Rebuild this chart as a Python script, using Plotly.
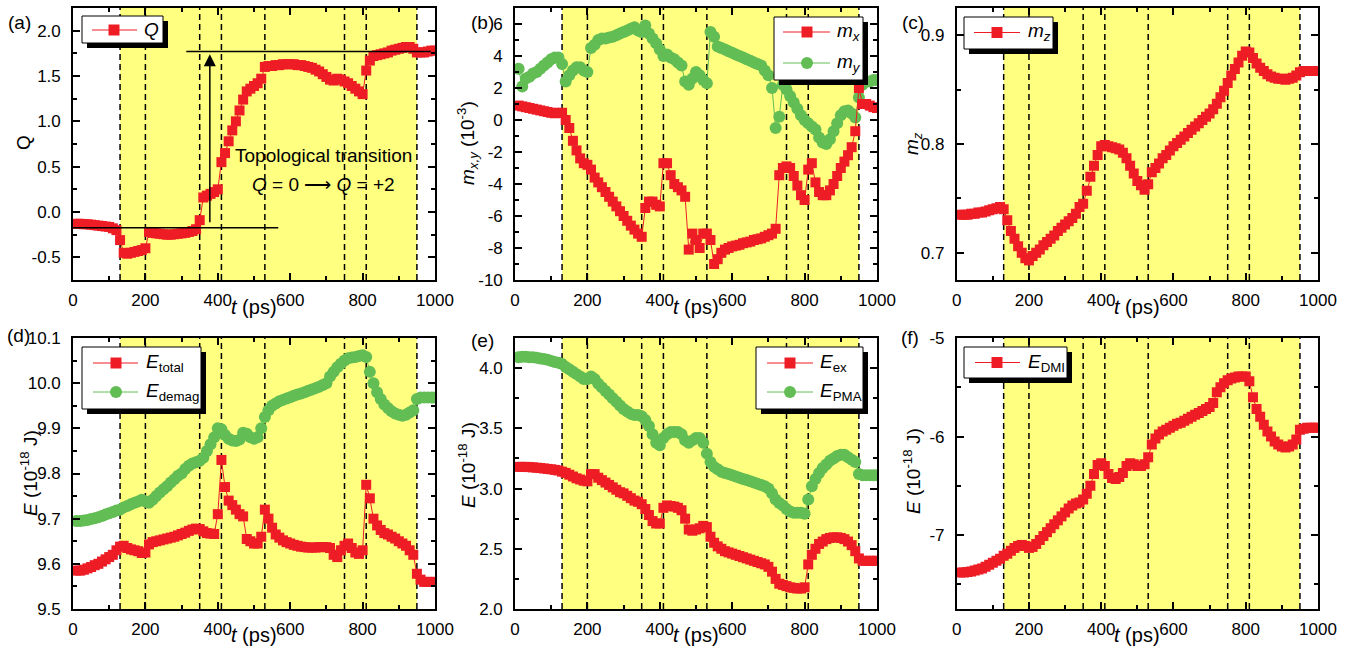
import plotly.graph_objects as go

W, H = 1350, 649
FONT = "Arial, 'Liberation Sans', sans-serif"
RED = "#EE1C25"
GREEN = "#62BD54"
YELLOW = "#FFFF80"

# ---------------- data ----------------
t = list(range(10, 1001, 10))

Q = [-0.13, -0.13, -0.135, -0.135, -0.14, -0.145, -0.15, -0.155, -0.16, -0.165,
     -0.18, -0.2, -0.31, -0.45, -0.46, -0.45, -0.44, -0.43, -0.42, -0.40,
     -0.22, -0.23, -0.235, -0.24, -0.245, -0.25, -0.25, -0.245, -0.24, -0.235,
     -0.23, -0.22, -0.21, -0.19, -0.09, 0.16, 0.18, 0.2, 0.22, 0.25,
     0.55, 0.65, 0.78, 0.9, 1.0, 1.12, 1.24, 1.33, 1.36, 1.39,
     1.42, 1.47, 1.6, 1.61, 1.61, 1.62, 1.62, 1.63, 1.63, 1.63,
     1.63, 1.62, 1.62, 1.61, 1.6, 1.59, 1.57, 1.55, 1.52, 1.49,
     1.46, 1.45, 1.47, 1.46, 1.44, 1.42, 1.39, 1.36, 1.33, 1.30,
     1.56, 1.67, 1.72, 1.73, 1.74, 1.75, 1.76, 1.78, 1.79, 1.80,
     1.81, 1.82, 1.82, 1.80, 1.76, 1.76, 1.76, 1.77, 1.78, 1.78]

m_x = [0.9, 0.85, 0.8, 0.75, 0.7, 0.65, 0.6, 0.55, 0.5, 0.45,
       0.42, 0.45, 0.45, 0.0, -0.5, -1.3, -1.9, -2.4, -2.7, -2.8,
       -3.1, -3.6, -3.9, -4.2, -4.5, -4.8, -5.1, -5.4, -5.7, -6.0,
       -6.3, -6.6, -6.85, -7.1, -7.3, -5.5, -5.1, -5.1, -5.3, -5.4,
       -2.7, -2.7, -3.45, -4.0, -4.2, -4.4, -4.8, -8.1, -7.1, -7.5,
       -8.0, -7.1, -7.1, -7.5, -9.0, -8.7, -8.3, -8.1, -8.0, -7.9,
       -7.85, -7.8, -7.7, -7.65, -7.6, -7.5, -7.45, -7.4, -7.3, -7.2,
       -7.1, -6.8, -3.45, -3.0, -2.9, -3.0, -3.5, -4.1, -4.7, -5.0,
       -3.1, -2.7, -3.9, -4.5, -4.7, -4.7, -4.4, -4.0, -3.5, -3.0,
       -2.6, -2.2, -1.7, -0.7, 2.0, 1.0, 1.0, 0.9, 0.8, 0.75]

m_y = [3.2, 2.1, 2.6, 2.7, 2.9, 3.0, 3.2, 3.4, 3.6, 3.8,
       3.9, 3.9, 3.5, 2.4, 2.8, 3.1, 3.3, 3.3, 3.1, 3.0,
       4.5, 4.7, 5.0, 5.1, 5.1, 5.15, 5.2, 5.3, 5.4, 5.5,
       5.6, 5.7, 5.8, 5.6, 5.5, 5.9, 5.4, 5.1, 4.8, 4.4,
       4.0, 4.1, 3.9, 3.8, 3.6, 3.4, 2.4, 2.2, 2.6, 3.0,
       2.8, 2.5, 2.3, 5.5, 5.2, 4.6, 4.5, 4.4, 4.3, 4.2,
       4.1, 4.0, 3.9, 3.8, 3.7, 3.6, 3.5, 3.4, 3.1, 2.8,
       2.0, -0.5, 0.2, 2.2, 1.9, 1.5, 1.1, 0.7, 0.3, 0.0,
       -0.2, -0.4, -0.6, -1.1, -1.4, -1.5, -1.2, -0.7, -0.2, 0.3,
       0.55, 0.6, 0.4, 0.15, 1.4, 2.2, 2.4, 2.4, 2.5, 2.5]

m_z = [0.735, 0.735, 0.735, 0.736, 0.736, 0.737, 0.737, 0.738, 0.739, 0.740,
       0.741, 0.742, 0.740, 0.730, 0.720, 0.713, 0.706, 0.700, 0.695, 0.693,
       0.697, 0.700, 0.703, 0.707, 0.710, 0.713, 0.716, 0.720, 0.723, 0.726,
       0.729, 0.732, 0.736, 0.742, 0.745, 0.757, 0.770, 0.780, 0.790, 0.798,
       0.799, 0.798, 0.797, 0.796, 0.795, 0.792, 0.787, 0.780, 0.773, 0.766,
       0.762, 0.758, 0.763, 0.774, 0.778, 0.782, 0.787, 0.790, 0.794, 0.798,
       0.801, 0.804, 0.807, 0.810, 0.813, 0.816, 0.819, 0.822, 0.825, 0.828,
       0.832, 0.837, 0.843, 0.849, 0.856, 0.863, 0.869, 0.875, 0.881, 0.885,
       0.884, 0.879, 0.874, 0.870, 0.867, 0.864, 0.862, 0.861, 0.860, 0.860,
       0.859, 0.860, 0.861, 0.863, 0.866, 0.867, 0.867, 0.867, 0.867, 0.867]

E_total = [9.585, 9.585, 9.587, 9.590, 9.593, 9.597, 9.600, 9.605, 9.610, 9.615,
           9.620, 9.630, 9.638, 9.640, 9.635, 9.632, 9.630, 9.628, 9.624, 9.625,
           9.643, 9.648, 9.650, 9.652, 9.654, 9.656, 9.658, 9.660, 9.663, 9.666,
           9.669, 9.673, 9.676, 9.678, 9.677, 9.672, 9.668, 9.667, 9.666, 9.710,
           9.830, 9.770, 9.740, 9.730, 9.720, 9.710, 9.705, 9.655, 9.650, 9.645,
           9.645, 9.660, 9.720, 9.700, 9.680, 9.665, 9.658, 9.652, 9.648, 9.645,
           9.642, 9.640, 9.638, 9.637, 9.636, 9.636, 9.636, 9.637, 9.637, 9.637,
           9.635, 9.620, 9.615, 9.630, 9.640, 9.645, 9.635, 9.625, 9.622, 9.630,
           9.775, 9.745, 9.700, 9.685, 9.675, 9.668, 9.665, 9.660, 9.656, 9.650,
           9.645, 9.640, 9.630, 9.620, 9.578, 9.565, 9.560, 9.560, 9.560, 9.560]

E_demag = [9.695, 9.695, 9.696, 9.697, 9.699, 9.701, 9.703, 9.706, 9.709, 9.712,
           9.715, 9.718, 9.720, 9.725, 9.728, 9.732, 9.735, 9.738, 9.742, 9.738,
           9.735, 9.742, 9.750, 9.758, 9.765, 9.772, 9.780, 9.787, 9.795, 9.800,
           9.810, 9.817, 9.822, 9.825, 9.828, 9.835, 9.850, 9.865, 9.880, 9.900,
           9.898, 9.885, 9.877, 9.873, 9.872, 9.875, 9.890, 9.888, 9.880, 9.877,
           9.880, 9.900, 9.925, 9.940, 9.950, 9.955, 9.960, 9.963, 9.966, 9.969,
           9.972, 9.975, 9.977, 9.980, 9.983, 9.986, 9.989, 9.992, 9.996, 10.000,
           10.015, 10.025, 10.035, 10.043, 10.050, 10.055, 10.057, 10.058, 10.060, 10.062,
           10.058, 10.025, 10.000, 9.980, 9.965, 9.953, 9.945, 9.938, 9.933, 9.930,
           9.928, 9.930, 9.935, 9.940, 9.965, 9.968, 9.968, 9.968, 9.968, 9.968]

E_ex = [3.18, 3.18, 3.18, 3.178, 3.176, 3.173, 3.17, 3.167, 3.163, 3.16,
        3.155, 3.15, 3.14, 3.13, 3.115, 3.10, 3.085, 3.075, 3.065, 3.06,
        3.12, 3.12, 3.09, 3.07, 3.05, 3.03, 3.01, 2.99, 2.97, 2.96,
        2.94, 2.92, 2.90, 2.89, 2.87, 2.83, 2.78, 2.73, 2.71, 2.71,
        2.84, 2.86, 2.855, 2.85, 2.84, 2.82, 2.75, 2.66, 2.65, 2.66,
        2.67, 2.69, 2.68, 2.60, 2.55, 2.52, 2.50, 2.48, 2.47, 2.46,
        2.45, 2.44, 2.43, 2.42, 2.41, 2.40, 2.39, 2.38, 2.37, 2.35,
        2.31, 2.25, 2.21, 2.20, 2.19, 2.18, 2.175, 2.17, 2.17, 2.18,
        2.37, 2.45, 2.50, 2.54, 2.56, 2.58, 2.59, 2.595, 2.595, 2.59,
        2.58, 2.56, 2.53, 2.48, 2.42, 2.40, 2.40, 2.40, 2.40, 2.40]

E_PMA = [4.09, 4.095, 4.095, 4.09, 4.09, 4.085, 4.08, 4.075, 4.07, 4.06,
         4.05, 4.045, 4.035, 4.01, 3.99, 3.97, 3.95, 3.93, 3.91, 3.91,
         3.93, 3.91, 3.87, 3.84, 3.81, 3.78, 3.75, 3.72, 3.69, 3.66,
         3.64, 3.62, 3.61, 3.61, 3.60, 3.57, 3.52, 3.45, 3.38, 3.36,
         3.42, 3.45, 3.47, 3.47, 3.47, 3.45, 3.40, 3.38, 3.40, 3.42,
         3.42, 3.38, 3.29, 3.22, 3.18, 3.16, 3.14, 3.13, 3.12, 3.11,
         3.10, 3.09, 3.08, 3.07, 3.06, 3.05, 3.04, 3.03, 3.02, 3.00,
         2.96, 2.91, 2.88, 2.86, 2.83, 2.81, 2.80, 2.80, 2.80, 2.79,
         2.91, 3.02, 3.08, 3.13, 3.17, 3.20, 3.23, 3.25, 3.27, 3.28,
         3.28, 3.26, 3.24, 3.22, 3.12, 3.11, 3.11, 3.11, 3.11, 3.11]

E_DMI = [-7.38, -7.38, -7.375, -7.37, -7.36, -7.35, -7.34, -7.32, -7.30, -7.28,
         -7.26, -7.24, -7.21, -7.19, -7.16, -7.13, -7.11, -7.10, -7.11, -7.13,
         -7.12, -7.09, -7.05, -7.01, -6.97, -6.93, -6.89, -6.85, -6.81, -6.77,
         -6.73, -6.70, -6.68, -6.67, -6.64, -6.58, -6.50, -6.38, -6.29, -6.27,
         -6.30, -6.38, -6.42, -6.43, -6.41, -6.37, -6.30, -6.27, -6.28, -6.30,
         -6.30, -6.28, -6.21, -6.08, -6.02, -5.98, -5.95, -5.93, -5.91, -5.89,
         -5.87, -5.86, -5.84, -5.82, -5.80, -5.78, -5.76, -5.74, -5.72, -5.70,
         -5.66, -5.55, -5.50, -5.46, -5.43, -5.41, -5.40, -5.39, -5.39, -5.39,
         -5.44, -5.60, -5.72, -5.80, -5.88, -5.95, -6.00, -6.05, -6.08, -6.10,
         -6.11, -6.10, -6.08, -6.03, -5.93, -5.92, -5.91, -5.91, -5.91, -5.91]

boundaries = [130, 200, 350, 410, 530, 750, 810, 950]
x_ticks = [0, 200, 400, 600, 800, 1000]

yticks_a = [-0.5, 0.0, 0.5, 1.0, 1.5, 2.0]
yticks_b = [-10, -8, -6, -4, -2, 0, 2, 4, 6]
yticks_c = [0.7, 0.8, 0.9]
yticks_d = [9.5, 9.6, 9.7, 9.8, 9.9, 10.0, 10.1]
yticks_e = [2.0, 2.5, 3.0, 3.5, 4.0]
yticks_f = [-7, -6, -5]


def fmt(v, nd):
    return f"{v:.{nd}f}"  # ASCII hyphen-minus as in the reference


# ---------------- layout geometry (pixels) ----------------
cols = [(73, 435), (515, 877), (956.7, 1318)]
rows = [(8, 280), (338, 609)]


def px(x):
    return x / W


def py(y):
    return 1 - y / H


fig = go.Figure()

panels = [
    (0, 0, [-0.75, 2.25], yticks_a, 1, 0.25),
    (0, 1, [-10, 7], yticks_b, 0, 1),
    (0, 2, [0.675, 0.925], yticks_c, 1, 0.05),
    (1, 0, [9.5, 10.1], yticks_d, 1, 0.05),
    (1, 1, [2.0, 4.25], yticks_e, 1, 0.25),
    (1, 2, [-7.75, -5], yticks_f, 0, 0.5),
]

layout = dict(
    width=W, height=H, margin=dict(l=0, r=0, t=0, b=0, autoexpand=False),
    paper_bgcolor="white", plot_bgcolor="white", showlegend=False,
    font=dict(family=FONT, color="black", size=17),
)

shapes = []
annotations = []

for i, (r, c, yr, yt, nd, mdt) in enumerate(panels):
    n = "" if i == 0 else str(i + 1)
    xd = [px(cols[c][0]), px(cols[c][1])]
    yd = [py(rows[r][1]), py(rows[r][0])]
    layout["xaxis" + n] = dict(
        domain=xd, anchor="y" + n, range=[0, 1000], automargin=False,
        tickvals=x_ticks, ticktext=[str(v) for v in x_ticks],
        ticks="inside", ticklen=7, tickwidth=1.5, tickcolor="black",
        mirror="ticks", showline=True, linecolor="black", linewidth=1.6,
        showgrid=False, zeroline=False, ticklabelstandoff=4,
        tickfont=dict(size=17, family=FONT),
        minor=dict(dtick=100, tick0=0, ticks="inside", ticklen=4,
                   tickwidth=1.5, tickcolor="black", showgrid=False),
    )
    layout["yaxis" + n] = dict(
        domain=yd, anchor="x" + n, range=yr, automargin=False,
        tickvals=yt, ticktext=[fmt(v, nd) for v in yt],
        ticks="inside", ticklen=7, tickwidth=1.5, tickcolor="black",
        mirror="ticks", showline=True, linecolor="black", linewidth=1.6,
        showgrid=False, zeroline=False, ticklabelstandoff=7,
        tickfont=dict(size=17, family=FONT),
        minor=dict(dtick=mdt, tick0=yt[0], ticks="inside", ticklen=4,
                   tickwidth=1.5, tickcolor="black", showgrid=False),
    )
    xr, yrf = "x" + n, "y" + n
    shapes.append(dict(type="rect", xref=xr, yref=yrf + " domain",
                       x0=boundaries[0], x1=boundaries[-1], y0=0, y1=1,
                       fillcolor=YELLOW, line=dict(width=0), layer="below"))
    for b in boundaries:
        shapes.append(dict(type="line", xref=xr, yref=yrf + " domain",
                           x0=b, x1=b, y0=0, y1=1, layer="below",
                           line=dict(color="black", width=1.5, dash="6px,4px")))
    annotations.append(dict(xref="paper", yref="paper",
                            x=px((cols[c][0] + cols[c][1]) / 2),
                            y=py(307 if r == 0 else 635),
                            text="<i>t</i> (ps)", showarrow=False,
                            font=dict(size=20, family=FONT),
                            xanchor="center", yanchor="middle"))


def add_trace(i, y, color, symbol, size):
    n = "" if i == 0 else str(i + 1)
    fig.add_trace(go.Scatter(
        x=t, y=y, xaxis="x" + n, yaxis="y" + n, mode="lines+markers",
        line=dict(color=color, width=1),
        marker=dict(symbol=symbol, size=size, color=color, line=dict(width=0)),
        cliponaxis=True,
    ))


add_trace(0, Q, RED, "square", 10)
add_trace(1, m_y, GREEN, "circle", 12)
add_trace(1, m_x, RED, "square", 10)
add_trace(2, m_z, RED, "square", 10)
add_trace(3, E_demag, GREEN, "circle", 12)
add_trace(3, E_total, RED, "square", 10)
add_trace(4, E_PMA, GREEN, "circle", 12)
add_trace(4, E_ex, RED, "square", 10)
add_trace(5, E_DMI, RED, "square", 10)

# ---------------- panel (a) annotations ----------------
shapes.append(dict(type="line", xref="x", yref="y", x0=0, x1=567, y0=-0.175, y1=-0.175,
                   line=dict(color="black", width=1.5), layer="above"))
shapes.append(dict(type="line", xref="x", yref="y", x0=313, x1=988, y0=1.77, y1=1.77,
                   line=dict(color="black", width=1.5), layer="above"))
annotations.append(dict(x=378, y=1.74, ax=378, ay=-0.13, xref="x", yref="y",
                        axref="x", ayref="y", showarrow=True, arrowhead=2,
                        arrowsize=1.6, arrowwidth=1.5, arrowcolor="black", text=""))
annotations.append(dict(x=692, y=0.62, xref="x", yref="y", showarrow=False,
                        xanchor="center", yanchor="middle",
                        text="Topological transition", font=dict(size=19, family=FONT)))
annotations.append(dict(x=692, y=0.30, xref="x", yref="y", showarrow=False,
                        xanchor="center", yanchor="middle",
                        text="<i>Q</i> = 0 \u27f6 <i>Q</i> = +2", font=dict(size=19, family=FONT)))

# ---------------- panel labels & y titles ----------------
for lab, x, y in [("(a)", 19, 22), ("(b)", 482, 23), ("(c)", 913, 22),
                  ("(d)", 18, 335), ("(e)", 482, 340), ("(f)", 910, 337)]:
    annotations.append(dict(xref="paper", yref="paper", x=px(x), y=py(y), text=lab,
                            xanchor="center", yanchor="middle",
                            showarrow=False, font=dict(size=19, family=FONT)))

for txt, x, y in [("Q", 24, 143),
                  ("<i>m</i><sub><i>x,y</i></sub> (10<sup>-3</sup>)", 468, 143),
                  ("<i>m</i><sub><i>z</i></sub>", 913, 144),
                  ("<i>E</i> (10<sup>-18</sup> J)", 29, 473),
                  ("<i>E</i> (10<sup>-18</sup> J)", 467, 465),
                  ("<i>E</i> (10<sup>-18</sup> J)", 912, 471)]:
    annotations.append(dict(xref="paper", yref="paper", x=px(x), y=py(y), text=txt,
                            textangle=-90, showarrow=False,
                            xanchor="center", yanchor="middle",
                            font=dict(size=19, family=FONT)))

# ---------------- legends (drawn boxes with drop shadow) ----------------
legends = [
    ((82, 16, 163, 43), 92, 137, 114, 142, [(30, RED, "square", "<i>Q</i>")]),
    ((774, 17, 863, 80), 783, 830, 807, 835,
     [(32, RED, "square", "<i>m</i><sub><i>x</i></sub>"),
      (63, GREEN, "circle", "<i>m</i><sub><i>y</i></sub>")]),
    ((964, 17, 1053, 49), 974, 1020, 997, 1026,
     [(32.5, RED, "square", "<i>m</i><sub><i>z</i></sub>")]),
    ((82, 347, 201, 409), 93, 138, 116, 144,
     [(363, RED, "square", "<i>E</i><sub>total</sub>"),
      (392, GREEN, "circle", "<i>E</i><sub>demag</sub>")]),
    ((756, 347, 863, 409), 767, 813, 790, 818,
     [(363, RED, "square", "<i>E</i><sub>ex</sub>"),
      (392, GREEN, "circle", "<i>E</i><sub>PMA</sub>")]),
    ((964, 347, 1067, 378), 975, 1020, 997, 1026,
     [(362.5, RED, "square", "<i>E</i><sub>DMI</sub>")]),
]

for (bx0, by0, bx1, by1), lx0, lx1, mx, tx, entries in legends:
    shapes.append(dict(type="rect", xref="paper", yref="paper",
                       x0=px(bx0 + 5), x1=px(bx1 + 5), y0=py(by1 + 5), y1=py(by0 + 5),
                       fillcolor="black", line=dict(width=0), layer="above"))
    shapes.append(dict(type="rect", xref="paper", yref="paper",
                       x0=px(bx0), x1=px(bx1), y0=py(by1), y1=py(by0),
                       fillcolor="white", line=dict(color="black", width=1), layer="above"))
    for ry, col, sym, txt in entries:
        shapes.append(dict(type="line", xref="paper", yref="paper",
                           x0=px(lx0), x1=px(lx1), y0=py(ry), y1=py(ry),
                           line=dict(color=col, width=1), layer="above"))
        s = 5.5 if sym == "square" else 6
        shapes.append(dict(type="rect" if sym == "square" else "circle",
                           xref="paper", yref="paper",
                           x0=px(mx - s), x1=px(mx + s), y0=py(ry + s), y1=py(ry - s),
                           fillcolor=col, line=dict(width=0), layer="above"))
        annotations.append(dict(xref="paper", yref="paper", x=px(tx), y=py(ry),
                                xanchor="left", yanchor="middle", text=txt,
                                showarrow=False, font=dict(size=19, family=FONT)))

layout["shapes"] = shapes
layout["annotations"] = annotations
fig.update_layout(**layout)
fig.write_html("out.html", config={"displayModeBar": False},
               post_script="document.body.style.margin='0';document.body.style.overflow='hidden';")
